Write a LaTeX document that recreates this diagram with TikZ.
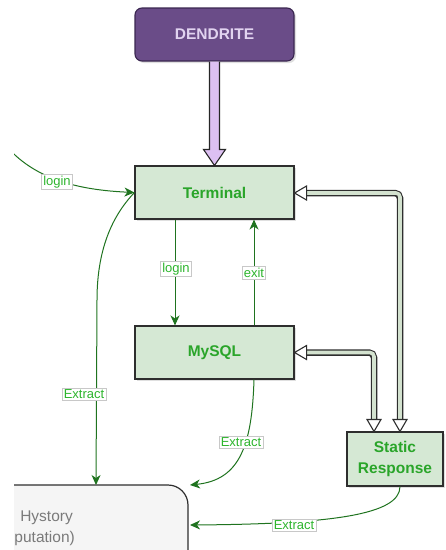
\documentclass[tikz,border=0pt]{standalone}
\usepackage{fontspec}
\setmainfont{Liberation Sans}
\usetikzlibrary{arrows.meta,calc,shadows}
\definecolor{dendfill}{HTML}{6A4C88}
\definecolor{dendstroke}{HTML}{3A2650}
\definecolor{dendtext}{HTML}{E1D3F0}
\definecolor{purpfill}{HTML}{DDC0F2}
\definecolor{boxfill}{HTML}{D5E8D4}
\definecolor{boxstroke}{HTML}{2E2E2E}
\definecolor{boxtext}{HTML}{2AA52A}
\definecolor{conncol}{HTML}{1F731F}
\definecolor{lbltext}{HTML}{2DB52D}
\definecolor{lblborder}{HTML}{C8C8C8}
\definecolor{histfill}{HTML}{F5F5F5}
\definecolor{histtext}{HTML}{7A7A7A}
\definecolor{dblin}{HTML}{D3E2CF}
\begin{document}
\begin{tikzpicture}[x=1pt,y=-1pt,
  greenbox/.style={draw=boxstroke, line width=1.1pt, fill=boxfill,
    text=boxtext, font=\fontsize{15.5}{21}\selectfont\bfseries,
    inner sep=0pt, align=center,
    drop shadow={shadow xshift=2pt, shadow yshift=-2pt, opacity=0.25}},
  dendbox/.style={draw=dendstroke, line width=1.1pt, fill=dendfill,
    rounded corners=7pt, text=dendtext,
    font=\fontsize{15.5}{18}\selectfont\bfseries, inner sep=0pt,
    minimum width=159pt, minimum height=53pt,
    drop shadow={shadow xshift=2pt, shadow yshift=-2pt, opacity=0.25}},
  conn/.style={draw=conncol, line width=1pt,
    -{Stealth[length=10pt, width=9pt, inset=3pt]}},
  lbl/.style={fill=white, draw=lblborder, line width=0.6pt, text=lbltext,
    font=\fontsize{13}{15}\selectfont, inner sep=1.6pt},
  dblout/.style={draw=boxstroke, line width=6.5pt, rounded corners=5pt},
  dblin/.style={draw=dblin, line width=3.6pt, rounded corners=4pt},
  dblhead/.style={draw=boxstroke, fill=white, line width=1.1pt, line join=miter},
  purparrow/.style={draw=black!85, fill=purpfill, line width=1.1pt, line join=miter}
]
\useasboundingbox (0,0) rectangle (446,550);

% left-clipped parts
\begin{scope}
  \clip (14,0) rectangle (446,550);
  \draw[draw=boxstroke, fill=histfill, line width=1.2pt, rounded corners=20pt]
    (-120,600) -- (-120,485) -- (188,485) -- (188,600);
  \node[anchor=base east, text=histtext, font=\fontsize{15.5}{18}\selectfont, inner sep=0pt] (h1) at (73,521) {Hystory};
  \node[anchor=base east, text=histtext, font=\fontsize{15.5}{18}\selectfont, inner sep=0pt] (h2) at (75,542) {putation)};
  \coordinate (loginstart) at (0,138);
\end{scope}

\coordinate (histtop) at (96,485);
\coordinate (histc) at (190,485);
\coordinate (histr) at (190,525);

% nodes
\node[dendbox] (dend) at (214.5,34.5) {DENDRITE};
\node[greenbox, minimum width=159pt, minimum height=53pt] (term) at (214.5,192.5) {Terminal};
\node[greenbox, minimum width=159pt, minimum height=53pt] (mysql) at (214.5,352.5) {MySQL};
\node[greenbox, minimum width=96pt, minimum height=54pt] (static) at (395,459) {Static\\Response};

% purple arrow
\draw[purparrow] ($(dend.south)+(-5,0)$) -- ($(term.north)+(-5,-16)$) -- ++(-6,0)
  -- (term.north) -- ($(term.north)+(11,-16)$) -- ++(-6,0) -- ($(dend.south)+(5,0)$);

% double arrows
\draw[dblout] ($(term.east)+(11,0.5)$) -| ($(static.north)+(5,-11)$);
\draw[dblin] ($(term.east)+(10,0.5)$) -| ($(static.north)+(5,-10)$);
\draw[dblout] ($(mysql.east)+(11,0)$) -| ($(static.north)+(-21,-11)$);
\draw[dblin] ($(mysql.east)+(10,0)$) -| ($(static.north)+(-21,-10)$);
\draw[dblhead] ($(term.east)+(0,0.5)$) -- ++(12,-7) -- ++(0,14) -- cycle;
\draw[dblhead] (mysql.east) -- ++(12,-7) -- ++(0,14) -- cycle;
\draw[dblhead] ($(static.north)+(5,0)$) -- ++(-7,-12) -- ++(14,0) -- cycle;
\draw[dblhead] ($(static.north)+(-21,0)$) -- ++(-7,-12) -- ++(14,0) -- cycle;

% green connectors
\begin{scope}
  \clip (14,0) rectangle (446,550);
  \draw[conn] (loginstart) .. controls (30,180) and (80,190) .. (term.west);
\end{scope}
\draw[conn] ($(term.south)+(-39.5,0)$) -- ($(mysql.north)+(-39.5,0)$);
\draw[conn] ($(mysql.north)+(39.5,0)$) -- ($(term.south)+(39.5,0)$);
\draw[conn] (term.west) .. controls (115,213) and (97,245) .. (97,300) -- (histtop);
\draw[conn] ($(mysql.south)+(39.5,0)$) .. controls (252,445) and (240,480) .. (histc);
\draw[conn] ($(static.south)+(5,0)$) .. controls (400,515) and (330,524) .. (histr);

% labels
\node[lbl] (l1) at (57,182) {login};
\node[lbl] (l2) at (176,269) {login};
\node[lbl] (l3) at (254,273) {exit};
\node[lbl] (l4) at (84,394) {Extract};
\node[lbl] (l5) at (241,442) {Extract};
\node[lbl] (l6) at (294,525) {Extract};
\end{tikzpicture}
\end{document}
